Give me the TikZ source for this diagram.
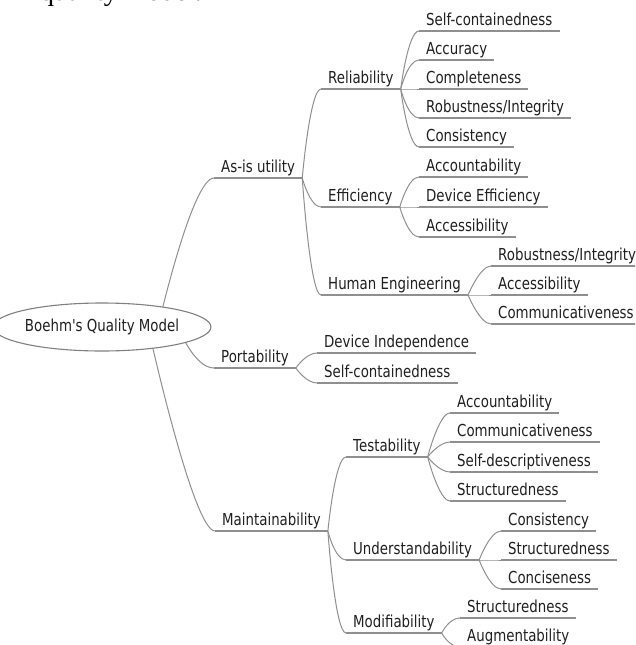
\documentclass[tikz,border=0pt]{standalone}
\usepackage{fontspec}
% plain family: no TeX quote mapping, so the apostrophe stays straight
\newfontfamily\mapsans{DejaVu Sans}[FakeStretch=0.81]
\newfontfamily\captionserif{Liberation Serif}
\usetikzlibrary{shapes.geometric,calc,backgrounds}

\definecolor{linegray}{gray}{0.56}
\definecolor{rimgray}{gray}{0.5}
\definecolor{inkgray}{gray}{0.12}

\tikzset{
  topic/.style={anchor=base west, inner xsep=7pt, inner ysep=0pt,
    text=inkgray, font=\mapsans\fontsize{16.5}{20}\selectfont},
  underline/.style={draw=linegray, line width=1.1pt},
  branch/.style={draw=linegray, line width=1pt},
  rootnode/.style={ellipse, draw=rimgray, fill=white, line width=1.1pt,
    minimum width=182pt, minimum height=48pt, inner sep=0pt,
    text=inkgray, font=\mapsans\fontsize{16.5}{20}\selectfont},
}

% topic node: name, text x, underline y, label
\newcommand\topicat[4]{\node[topic] (#1) at (#2-7,#3-6) {#4};}
% curved branch from a parent's underline end to a child's underline start
\newcommand\branchto[3]{%
  \draw[branch] (#1-r) .. controls (#1-r) and ($(#2-l)+(-#3,0)$) .. (#2-l);}

\begin{document}
\begin{tikzpicture}[x=1pt,y=-1pt]
\useasboundingbox (0,0) rectangle (635,645);
\clip (0,0) rectangle (635,645);

% caption line of the page, cut at the top edge
\node[anchor=base west, inner sep=0pt, text=black,
  font=\captionserif\fontsize{28}{30}\selectfont] (caption) at (40,0.5) {quality model.};

\node[rootnode] (root) at (102,327) {Boehm's Quality Model};

% first level
\topicat{asis}{221}{178}{As-is utility}
\topicat{port}{221}{368}{Portability}
\topicat{maint}{222}{531}{Maintainability}

% second level
\topicat{rel}{328}{89}{Reliability}
\topicat{eff}{328}{207}{Efficiency}
\topicat{heng}{328}{295}{Human Engineering}
\topicat{devind}{324}{353}{Device Independence}
\topicat{selfcb}{324}{383}{Self-containedness}
\topicat{test}{353}{457}{Testability}
\topicat{under}{353}{560}{Understandability}
\topicat{modif}{353}{633}{Modifiability}

% third level
\topicat{selfc}{426}{31}{Self-containedness}
\topicat{accur}{426}{60}{Accuracy}
\topicat{compl}{426}{89}{Completeness}
\topicat{robu}{426}{118}{Robustness/Integrity}
\topicat{consi}{426}{147}{Consistency}
\topicat{accnt}{426}{177}{Accountability}
\topicat{deveff}{426}{207}{Device Efficiency}
\topicat{access}{426}{237}{Accessibility}
\topicat{robub}{498}{266}{Robustness/Integrity}
\topicat{accessb}{498}{295}{Accessibility}
\topicat{commu}{498}{324}{Communicativeness}
\topicat{accntb}{457}{413}{Accountability}
\topicat{commub}{457}{442}{Communicativeness}
\topicat{selfd}{457}{472}{Self-descriptiveness}
\topicat{struc}{457}{501}{Structuredness}
\topicat{consib}{508}{531}{Consistency}
\topicat{strucb}{508}{560}{Structuredness}
\topicat{conc}{508}{589}{Conciseness}
\topicat{strucc}{467}{618}{Structuredness}
\topicat{augm}{467}{647}{Augmentability}

% underline ends of every topic
\foreach \n in {asis,port,maint,rel,eff,heng,devind,selfcb,test,under,modif,
  selfc,accur,compl,robu,consi,accnt,deveff,access,robub,accessb,commu,
  accntb,commub,selfd,struc,consib,strucb,conc,strucc,augm}{
  \coordinate (\n-l) at ([yshift=-6pt]\n.base west);
  \coordinate (\n-r) at ([yshift=-6pt]\n.base east);
  \draw[underline] (\n-l) -- (\n-r);
}

% branches leaving the root, kept behind the ellipse
\begin{scope}[on background layer]
  \draw[branch] ($(root.center)+(56,0)$) .. controls ($(root.center)+(56,0)$)
    and ($(asis-l)+(-22,0)$) .. (asis-l);
  \draw[branch] ($(root.center)+(76,0)$) .. controls ($(root.center)+(76,0)$)
    and ($(port-l)+(-20,0)$) .. (port-l);
  \draw[branch] ($(root.center)+(46,0)$) .. controls ($(root.center)+(46,0)$)
    and ($(maint-l)+(-22,0)$) .. (maint-l);
\end{scope}

% As-is utility
\branchto{asis}{rel}{11}
\branchto{asis}{eff}{11}
\branchto{asis}{heng}{11}
\foreach \c in {selfc,accur,compl,robu,consi}{\branchto{rel}{\c}{11}}
\foreach \c in {accnt,deveff,access}{\branchto{eff}{\c}{11}}
\foreach \c in {robub,accessb,commu}{\branchto{heng}{\c}{11}}

% Portability
\foreach \c in {devind,selfcb}{\branchto{port}{\c}{11}}

% Maintainability
\branchto{maint}{test}{11}
\branchto{maint}{under}{11}
\branchto{maint}{modif}{11}
\foreach \c in {accntb,commub,selfd,struc}{\branchto{test}{\c}{11}}
\foreach \c in {consib,strucb,conc}{\branchto{under}{\c}{11}}
\foreach \c in {strucc,augm}{\branchto{modif}{\c}{11}}
\end{tikzpicture}
\end{document}
